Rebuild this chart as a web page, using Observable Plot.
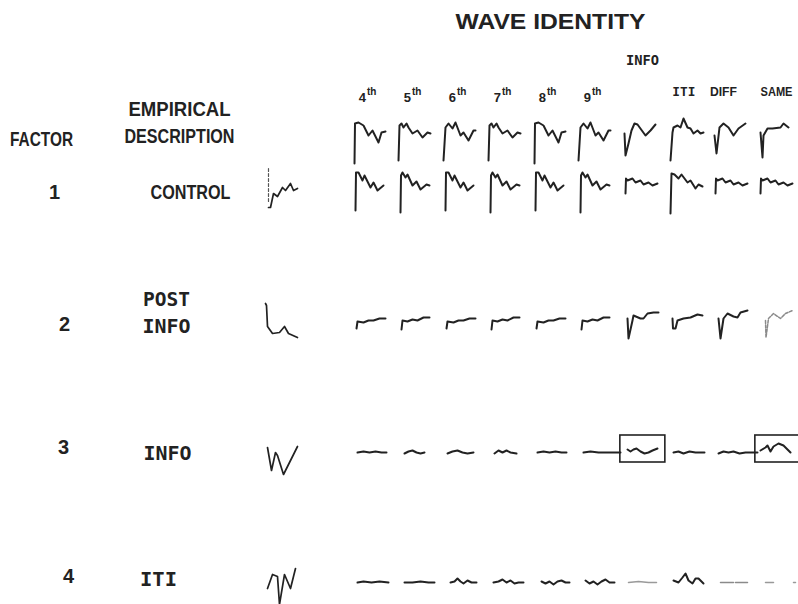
<!DOCTYPE html>
<html><head><meta charset="utf-8">
<script src="https://cdn.jsdelivr.net/npm/d3@7"></script>
<script src="https://cdn.jsdelivr.net/npm/@observablehq/plot@0.6"></script>
<style>body{margin:0;background:#fff}#chart svg{display:block;background:#fff}</style>
</head><body><div id="chart"></div>
<script>
// ---------------- data ----------------
const waveIdentities = ["4th","5th","6th","7th","8th","9th","INFO","ITI","DIFF","SAME"];
const ordinalNumbers = ["4","5","6","7","8","9"];
const ordinalSuffix = "th";
const wordColumns = ["ITI","DIFF","SAME"];
const groupLabel = "INFO";
const title = "WAVE IDENTITY";
const factorNumbers = ["1","2","3","4"];
const factorDescriptions = [["CONTROL"],["POST","INFO"],["INFO"],["ITI"]];
const headerFactor = "FACTOR";
const headerDescription = ["EMPIRICAL","DESCRIPTION"];

// waveform samples: [time, amplitude] (amplitude positive = up)
const avgA = [[1,-23],[1.5,17],[5,18],[10,15],[15,5],[19,10],[25,-2],[28,8],[32,9]];
const avgB = [[0,-20],[1,15],[3,17],[5,13],[8,17],[10,13],[14,7],[19,10],[24,3],[29,8],[32,7]];
const avgC = [[0,-20],[2,13],[5,17],[9,12],[12,18],[17,5],[20,8],[25,0],[30,10],[32,10]];
const infoAvg = [[1,7],[2,-15],[5,-3],[8,10],[11,17],[14,16],[22,5],[27,10],[32,16]];
const itiAvg = [[2,-20],[4,8],[5,13],[9,15],[12,13],[15,22],[19,13],[22,12],[25,7],[29,10],[32,7],[35,8]];
const diffAvg = [[1,5],[3,-13],[6,13],[10,17],[15,13],[20,5],[25,12],[32,17]];
const sameAvg = [[2,8],[4,-17],[5,5],[9,12],[14,12],[22,13],[25,17],[30,13]];

const ctrlA = [[2,-20],[2.5,18],[5,18],[9,10],[11,15],[17,3],[20,8],[24,0],[30,5]];
const ctrlB = [[2,-22],[2.5,15],[4,18],[7,13],[9,16],[14,5],[18,9],[22,1],[28,6],[31,5]];
const ctrlSmall = [[2,-3],[2.5,12],[4,10],[9,12],[12,8],[17,10],[20,6],[25,8],[29,5],[34,7]];
const ctrlIti = [[2,-23],[3,17],[6,16],[10,12],[13,16],[19,8],[22,10],[27,2],[30,6],[34,4]];

const postSmall = [[3,-6],[4,1],[10,0],[15,2],[20,2],[26,4],[32,4]];
const postSmallB = [[3,-7],[4,2],[9,1],[14,3],[19,2],[25,5],[31,5]];
const postInfo = [[4,4],[5,-16],[9,2],[10,7],[17,4],[20,4],[24,9],[30,10],[35,10]];
const postIti = [[4,4],[4.5,-6],[7,-6],[9,2],[15,4],[22,5],[29,8],[34,7]];
const postDiff = [[5,4],[7,-16],[10,4],[14,9],[20,6],[24,5],[27,10],[34,12]];
const postSame = [[7,2],[7.5,-15],[10,4],[15,9],[22,4],[27,9],[34,12]];

const infoFlat = [[4,0],[10,1],[16,0],[22,1],[28,0],[33,0]];
const infoBump = [[6,-1],[10,1],[14,2],[18,0],[22,-1],[26,0]];
const infoWave = [[4,-1],[9,1],[14,2],[19,0],[24,-1],[30,0]];
const infoDouble = [[6,-1],[10,2],[14,0],[18,2],[22,0],[28,-1]];
const infoLong = [[5,0],[12,1],[20,0],[30,0],[42,0]];
const infoBox1 = [[4,3],[7,1],[10,3],[13,4],[17,1],[21,-1],[25,0],[29,2],[34,4]];
const infoWave2 = [[5,0],[10,1],[15,-1],[21,1],[27,0],[36,0]];
const infoLong2 = [[5,-1],[10,1],[15,0],[20,1],[26,-1],[32,0],[44,0]];
const infoBox2 = [[2,2],[7,5],[9,7],[12,1],[15,6],[20,9],[25,7],[32,0]];

const itiFlat = [[4,0],[10,1],[18,0],[26,1],[35,0]];
const itiFlat2 = [[6,0],[14,0],[22,1],[30,0],[36,0]];
const itiBump = [[7,0],[11,1],[14,4],[17,1],[20,-1],[24,2],[28,0],[33,0]];
const itiBump2 = [[5,0],[10,1],[14,3],[18,0],[22,2],[26,-1],[30,0],[35,0]];
const itiDip = [[8,1],[12,-1],[16,1],[20,-2],[24,1],[28,2],[32,0],[36,0]];
const itiDip2 = [[7,2],[11,-1],[15,1],[19,-2],[23,1],[27,3],[31,0],[36,0]];
const itiFaint = [[5,0],[15,1],[25,0],[33,0]];
const itiIti = [[5,2],[10,0],[14,5],[17,9],[20,2],[24,-1],[27,4],[30,4],[35,-1]];
const itiDashA = [[7,0],[34,0]];
const itiDashB = [[7,0],[38,0]];

// factor waveforms (left column)
const factor1Wave = [[3,-17],[5,-17],[8,-3],[12,-6],[17,3],[20,0],[25,7],[28,0],[32,2]];
const factor1Marker = [[3,22],[3,-12]];
const factor2Wave = [[0,19],[1,17],[2,-4],[7,-11],[14,-10],[19,-4],[23,-11],[32,-15]];
const factor3Wave = [[2,5],[6,-18],[10,0],[12,-3],[18,-22],[32,6]];
const factor4Wave = [[2,-6],[7,8],[12,6],[14,-22],[19,8],[25,-6],[30,14]];

// grid: which waveform sits in each row / wave-identity column
const averageRow = [avgA, avgB, avgC, avgB, avgA, avgC, infoAvg, itiAvg, diffAvg, sameAvg];
const factor1Row = [ctrlA, ctrlB, ctrlA, ctrlB, ctrlA, ctrlB, ctrlSmall, ctrlIti, ctrlSmall, ctrlSmall];
const factor2Row = [postSmall, postSmallB, postSmall, postSmallB, postSmall, postSmallB, postInfo, postIti, postDiff, postSame];
const factor3Row = [infoFlat, infoBump, infoWave, infoDouble, infoFlat, infoLong, infoBox1, infoWave2, infoLong2, infoBox2];
const factor4Row = [itiFlat, itiFlat2, itiBump, itiBump2, itiDip, itiDip2, itiFaint, itiIti, itiDashA, itiDashB];
const factorWaves = [factor1Wave, factor2Wave, factor3Wave, factor4Wave];
const boxedCells = [["INFO", 3], ["SAME", 3]];

// ---------------- layout & style ----------------
const W = 798, H = 604;
const colLeft0 = 353, colStep = 45;           // first wave column, spacing (px)
const colAt = px => (px - colLeft0) / colStep; // pixel -> column units
const rowBase = [140, 190, 322, 452, 582];    // baselines: average row + factors 1..4
const shapeCol = colAt(265);
const ink = "#222";
const sans = "'Liberation Sans', Arial, sans-serif";
const mono = "'DejaVu Sans Mono', 'Liberation Mono', monospace";
const faint = new Map([[postSame, {stroke: "#8a8a8a", dash: "3,1.5"}], [itiFaint, {stroke: "#9a9a9a", dash: null}],
  [itiDashA, {stroke: "#8a8a8a", dash: "13,2,12,60"}], [itiDashB, {stroke: "#999", dash: "8,20,2,60"}]]);
const fitWidth = new Map([
  ["WAVE IDENTITY@22", 190], ["INFO@14", 33], ["FACTOR@20", 63], ["EMPIRICAL@20", 102],
  ["DESCRIPTION@20", 110], ["CONTROL@20", 80], ["POST@20", 47], ["INFO@20", 48], ["ITI@20", 37],
  ["ITI@13", 23], ["DIFF@13", 27], ["SAME@13", 32]
]);

// ---------------- marks ----------------
const toPoints = (wave, col, row) => wave.map(([t, v]) => ({x: col + t / colStep, y: rowBase[row] - v}));
const rows = [averageRow, factor1Row, factor2Row, factor3Row, factor4Row];
const waveMarks = [];
rows.forEach((row, r) => row.forEach((wave, c) => {
  const st = faint.get(wave);
  waveMarks.push(Plot.line(toPoints(wave, c, r), {x: "x", y: "y", stroke: st ? st.stroke : ink,
    strokeWidth: st ? 1.5 : 2, strokeDasharray: st && st.dash ? st.dash : undefined,
    strokeLinejoin: "round", strokeLinecap: "round", curve: "linear"}));
}));
factorWaves.forEach((wave, i) => {
  waveMarks.push(Plot.line(toPoints(wave, shapeCol, i + 1), {x: "x", y: "y", stroke: ink, strokeWidth: 1.7,
    strokeLinejoin: "round", strokeLinecap: "round", curve: "linear"}));
});
waveMarks.push(Plot.line(toPoints(factor1Marker, shapeCol, 1), {x: "x", y: "y", stroke: "#555", strokeWidth: 1.2, strokeDasharray: "3,2"}));

const boxes = boxedCells.map(([name, r]) => ({c: waveIdentities.indexOf(name), r}));

const chart = Plot.plot({
  width: W, height: H, margin: 0,
  x: {domain: [colAt(0), colAt(W)], range: [0, W], axis: null},
  y: {domain: [0, H], range: [0, H], axis: null},
  marks: [
    Plot.rect(boxes, {x1: d => d.c - 0.07, x2: d => d.c + 0.93, y1: d => rowBase[d.r] - 17, y2: d => rowBase[d.r] + 10,
      fill: "none", stroke: ink, strokeWidth: 1.6}),
    ...waveMarks,
    Plot.text([title], {x: colAt(550), y: 21, text: d => d, fontSize: 22, fontFamily: sans, fontWeight: "bold", fill: ink}),
    Plot.text([groupLabel], {x: waveIdentities.indexOf("INFO") + 0.42, y: 60, text: d => d, fontSize: 14, fontFamily: mono, fontWeight: "bold", fill: ink}),
    Plot.text(ordinalNumbers, {x: (d, i) => i + 0.28, y: 97, text: d => d, textAnchor: "end", fontSize: 13, fontFamily: sans, fontWeight: "bold", fill: ink}),
    Plot.text(ordinalNumbers, {x: (d, i) => i + 0.3, y: 91, text: () => ordinalSuffix, textAnchor: "start", fontSize: 10, fontFamily: sans, fontWeight: "bold", fill: ink}),
    Plot.text(wordColumns.slice(0, 1), {x: d => waveIdentities.indexOf(d) + 0.34, y: 91, text: d => d, fontSize: 13, fontFamily: mono, fontWeight: "bold", fill: ink}),
    Plot.text(wordColumns.slice(1), {x: d => waveIdentities.indexOf(d) + [0.22, 0.4][wordColumns.indexOf(d) - 1], y: 91, text: d => d, fontSize: 13, fontFamily: sans, fontWeight: "bold", fill: ink}),
    Plot.text([headerFactor], {x: colAt(41), y: 139, text: d => d, fontSize: 20, fontFamily: sans, fontWeight: "bold", fill: ink}),
    Plot.text(headerDescription, {x: colAt(179), y: (d, i) => 109 + i * 27, text: d => d, fontSize: 20, fontFamily: sans, fontWeight: "bold", fill: ink}),
    Plot.text(factorNumbers, {x: (d, i) => colAt([54, 64, 63, 68][i]), y: (d, i) => rowBase[i + 1] + [2, 2, -5, -6][i], text: d => d, fontSize: 20, fontFamily: sans, fontWeight: "bold", fill: ink}),
    Plot.text([factorDescriptions[0][0]], {x: colAt(190), y: rowBase[1] + 2, text: d => d, fontSize: 20, fontFamily: sans, fontWeight: "bold", fill: ink}),
    Plot.text(factorDescriptions[1], {x: colAt(166), y: (d, i) => 299 + i * 27, text: d => d, fontSize: 20, fontFamily: mono, fontWeight: "bold", fill: ink}),
    Plot.text([factorDescriptions[2][0]], {x: colAt(167), y: rowBase[3] + 1, text: d => d, fontSize: 20, fontFamily: mono, fontWeight: "bold", fill: ink}),
    Plot.text([factorDescriptions[3][0]], {x: colAt(158), y: rowBase[4] - 3, text: d => d, fontSize: 20, fontFamily: mono, fontWeight: "bold", fill: ink})
  ]
});

chart.querySelectorAll("text").forEach(t => {
  const g = t.closest("[font-size]");
  const key = t.textContent + "@" + (g ? parseFloat(g.getAttribute("font-size")) : "");
  if (fitWidth.has(key)) { t.setAttribute("textLength", fitWidth.get(key)); t.setAttribute("lengthAdjust", "spacingAndGlyphs"); }
});
document.getElementById("chart").append(chart);
</script>
</body></html>
